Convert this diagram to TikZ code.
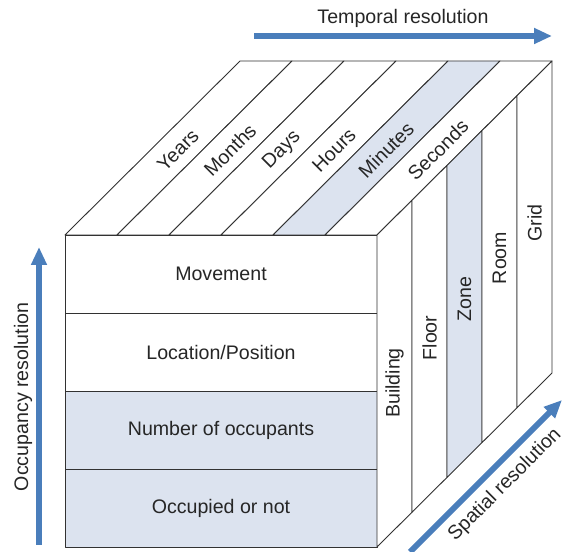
\documentclass[tikz,border=0pt]{standalone}
\usepackage{fontspec}
\setmainfont{Liberation Sans}
\usetikzlibrary{arrows.meta, positioning, calc}

\definecolor{cubeline}{RGB}{50,50,50}
\definecolor{cubefill}{RGB}{220,227,239}
\definecolor{resblue}{RGB}{74,126,187}

\begin{document}
\begin{tikzpicture}[
    x=1pt, y=1pt,
    face/.style={draw=cubeline, line width=0.9pt, line join=round},
    lbl/.style={font=\fontsize{19.6}{22}\selectfont, text=black!85, inner sep=0pt},
    resarrow/.style={resblue, line width=6pt, -{Triangle[length=18pt, width=15pt]}}
]
    \useasboundingbox (0,0) rectangle (563,552);

    % Front face: occupancy levels
    \foreach \i/\lab/\fil in {0/Occupied or not/cubefill, 1/Number of occupants/cubefill,
                              2/{Location/Position}/white, 3/Movement/white} {
        \filldraw[face, fill=\fil] (65,5+78*\i) rectangle ++(312,78);
        \node[lbl] (occ\i) at (221,44+78*\i) {\lab};
    }

    % Top face: temporal levels
    \foreach \k/\lab/\fil in {0/Years/white, 1/Months/white, 2/Days/white,
                              3/Hours/white, 4/Minutes/cubefill, 5/Seconds/white} {
        \filldraw[face, fill=\fil] (65+52*\k,317) -- ++(52,0) -- ++(175,174) -- ++(-52,0) -- cycle;
        \node[lbl, rotate=45] (tmp\k) at (178+52*\k,402) {\lab};
    }

    % Right face: spatial levels
    \foreach \k/\lab/\fil/\yy in {0/Building/white/169, 1/Floor/white/214, 2/Zone/cubefill/253,
                                  3/Room/white/294, 4/Grid/white/329} {
        \filldraw[face, fill=\fil] (377+35*\k,5+34.8*\k) -- ++(35,34.8) -- ++(0,312) -- ++(-35,-34.8) -- cycle;
        \node[lbl, rotate=90] (spa\k) at (394.5+35*\k,\yy) {\lab};
    }

    % Resolution arrows
    \coordinate (t0) at (254,516);
    \coordinate (t1) at (552,516);
    \coordinate (o0) at (39,7);
    \coordinate (o1) at (39,305);
    \coordinate (s0) at (410,0);
    \coordinate (s1) at (562,152);
    \draw[resarrow] (t0) -- (t1);
    \draw[resarrow] (o0) -- (o1);
    \draw[resarrow] (s0) -- (s1);
    \node[lbl] (temporal) at (403,534) {Temporal resolution};
    \node[lbl, rotate=90] (occupancy) at (23,155) {Occupancy resolution};
    \node[lbl, rotate=45] (spatial) at (505,67) {Spatial resolution};
\end{tikzpicture}
\end{document}
